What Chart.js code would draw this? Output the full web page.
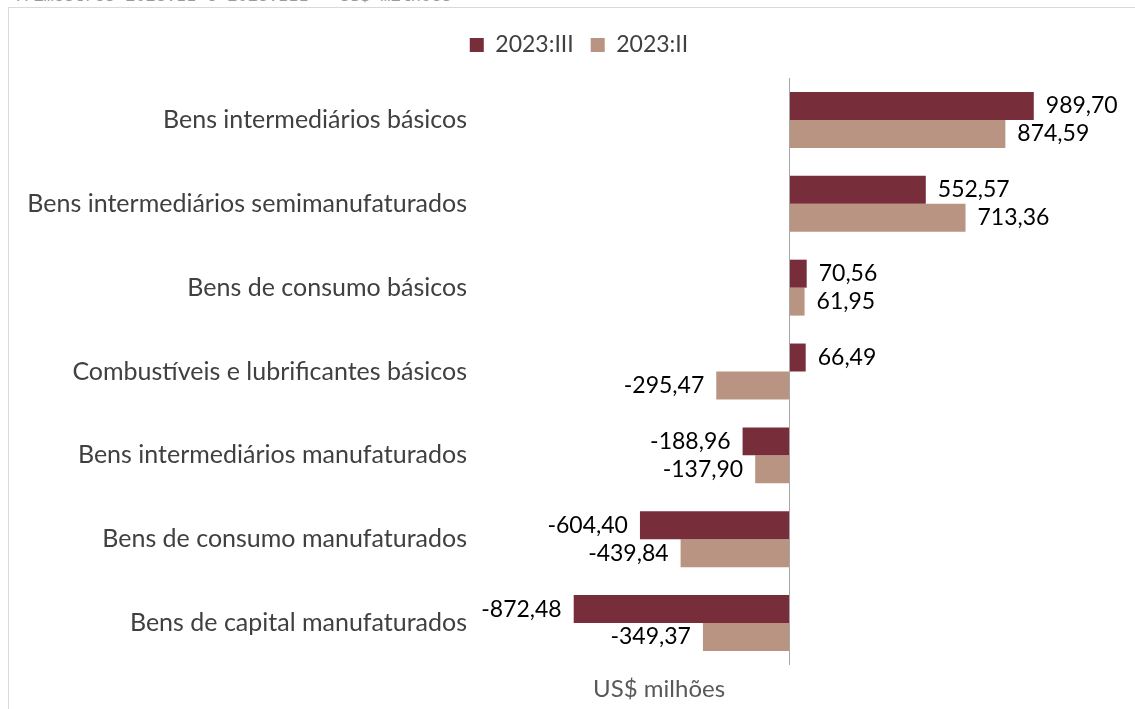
<!DOCTYPE html>
<html>
<head>
<meta charset="utf-8">
<script src="https://cdn.jsdelivr.net/npm/chart.js@4"></script>
<style>
  html, body { margin: 0; padding: 0; overflow: hidden; background: #fff; width: 1135px; height: 709px; }
  #title { position: absolute; left: 13px; top: -12.5px; font: 17px "Liberation Mono", monospace; color: #9a9a9a; white-space: nowrap; line-height: 17px; }
  #box { position: absolute; left: 8px; top: 7px; width: 1140px; height: 710px; border: 1px solid #d9d9d9; }
</style>
</head>
<body>
<div id="title">Trimestres 2023:II e 2023:III – US$ milhões</div>
<div id="box"><canvas id="c"></canvas></div>
<script>
const categories = [
  "Bens intermediários básicos",
  "Bens intermediários semimanufaturados",
  "Bens de consumo básicos",
  "Combustíveis e lubrificantes básicos",
  "Bens intermediários manufaturados",
  "Bens de consumo manufaturados",
  "Bens de capital manufaturados"
];
const seriesNames = ["2023:III", "2023:II"];
const values2023III = [989.70, 552.57, 70.56, 66.49, -188.96, -604.40, -872.48];
const values2023II = [874.59, 713.36, 61.95, -295.47, -137.90, -439.84, -349.37];
const axisTitle = "US$ milhões";

const FONT = "Lato";
const fmt = v => v.toFixed(2).replace(".", ",");

const legendHeight = {
  id: "legendHeight",
  beforeUpdate(chart) {
    const lg = chart.legend;
    if (lg && !lg._patched) {
      const orig = lg.fit;
      lg.fit = function () { orig.call(this); this.height = 61.5; };
      lg._patched = true;
    }
  }
};

const dataLabels = {
  id: "dataLabels",
  afterDatasetsDraw(chart) {
    const ctx = chart.ctx;
    ctx.save();
    ctx.font = "23px " + FONT;
    ctx.fillStyle = "#000";
    ctx.textBaseline = "middle";
    chart.data.datasets.forEach((ds, di) => {
      const meta = chart.getDatasetMeta(di);
      meta.data.forEach((el, i) => {
        const v = ds.data[i];
        if (v >= 0) { ctx.textAlign = "left"; ctx.fillText(fmt(v), el.x + 12, el.y); }
        else { ctx.textAlign = "right"; ctx.fillText(fmt(v), el.x - 12, el.y); }
      });
    });
    const x0 = Math.round(chart.scales.x.getPixelForValue(0)) + 0.5;
    ctx.strokeStyle = "#a6a6a6";
    ctx.lineWidth = 1;
    ctx.beginPath();
    ctx.moveTo(x0, chart.chartArea.top);
    ctx.lineTo(x0, chart.chartArea.bottom);
    ctx.stroke();
    ctx.font = "24px " + FONT;
    ctx.fillStyle = "#595959";
    ctx.textAlign = "center";
    ctx.fillText(axisTitle, chart.scales.x.getPixelForValue(-527), chart.chartArea.bottom + 24);
    ctx.restore();
  }
};

new Chart(document.getElementById("c"), {
  type: "bar",
  data: {
    labels: categories,
    datasets: [
      { label: seriesNames[0], data: values2023III, backgroundColor: "#782D3B", borderWidth: 0 },
      { label: seriesNames[1], data: values2023II, backgroundColor: "#B99482", borderWidth: 0 }
    ]
  },
  options: {
    indexAxis: "y",
    responsive: true,
    maintainAspectRatio: false,
    animation: false,
    categoryPercentage: 0.667,
    barPercentage: 1.0,
    layout: { padding: { top: 8.5, right: 0, bottom: 0, left: 0 } },
    plugins: {
      legend: {
        position: "top",
        labels: { boxWidth: 14, boxHeight: 14, padding: 17, color: "#404040", font: { family: FONT, size: 23 } }
      },
      tooltip: { enabled: false }
    },
    scales: {
      x: {
        min: -1272, max: 1456,
        ticks: { display: false },
        grid: { display: false, drawTicks: false },
        border: { display: false },
        afterFit: s => { s.height = 53; }
      },
      y: {
        ticks: { color: "#404040", padding: 8, font: { family: FONT, size: 25 } },
        grid: { display: false, drawTicks: false },
        border: { display: false },
        afterFit: s => { s.width = 466; }
      }
    }
  },
  plugins: [legendHeight, dataLabels]
});
</script>
</body>
</html>
